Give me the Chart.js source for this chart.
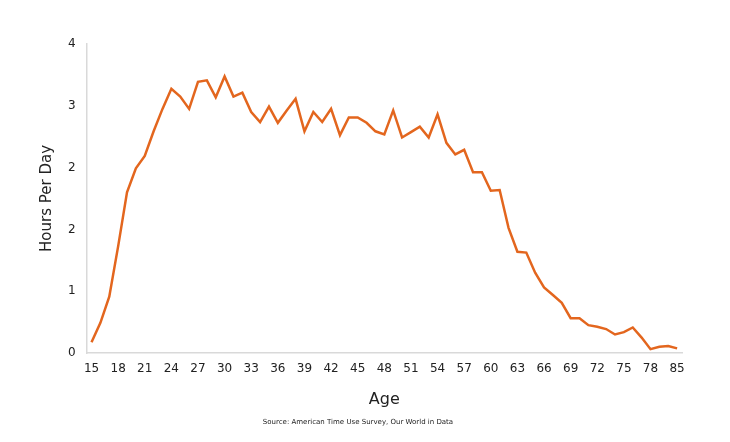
<!DOCTYPE html>
<html>
<head>
<meta charset="utf-8">
<script src="https://cdn.jsdelivr.net/npm/chart.js@4"></script>
<style>
  html, body { margin: 0; padding: 0; background: #fff; }
  #wrap { width: 730px; height: 442px; }
</style>
</head>
<body>
<div id="wrap"><canvas id="chart" width="730" height="442"></canvas></div>
<script>
// Ages (last bucket is 85)
const ages = [15, 16, 17, 18, 19, 20, 21, 22, 23, 24, 25, 26, 27, 28, 29, 30, 31, 32, 33, 34,
    35, 36, 37, 38, 39, 40, 41, 42, 43, 44, 45, 46, 47, 48, 49, 50, 51, 52, 53, 54,
    55, 56, 57, 58, 59, 60, 61, 62, 63, 64, 65, 66, 67, 68, 69, 70, 71, 72, 73, 74,
    75, 76, 77, 78, 79, 80, 85];

// Hours per day
const hoursPerDay = [0.14, 0.39, 0.73, 1.38, 2.08, 2.39, 2.55, 2.87, 3.16, 3.42,
    3.32, 3.16, 3.51, 3.53, 3.31, 3.58, 3.32, 3.37, 3.12, 2.99,
    3.19, 2.98, 3.14, 3.29, 2.87, 3.12, 2.99, 3.16, 2.82, 3.05,
    3.05, 2.98, 2.87, 2.83, 3.14, 2.79, 2.86, 2.93, 2.79, 3.09,
    2.72, 2.57, 2.63, 2.34, 2.34, 2.10, 2.11, 1.62, 1.31, 1.30,
    1.04, 0.85, 0.75, 0.65, 0.45, 0.45, 0.36, 0.34, 0.31, 0.24,
    0.27, 0.33, 0.20, 0.05, 0.08, 0.09, 0.06];

const yTicks = [0, 0.8, 1.6, 2.4, 3.2, 4];
// every third age gets a label
const xTickIdx = ages.map((a, i) => i).filter(i => i % 3 === 0);

const FONT = "'DejaVu Sans', sans-serif";
const TEXT = '#222';

new Chart(document.getElementById('chart').getContext('2d'), {
    type: 'line',
    data: {
        datasets: [{
            data: hoursPerDay.map((v, i) => ({ x: i, y: v })),
            borderColor: '#e3661e',
            borderWidth: 2.5,
            pointRadius: 0,
            tension: 0,
            fill: false
        }]
    },
    options: {
        responsive: false,
        animation: false,
        layout: { padding: { left: 34, right: 48, top: 44, bottom: 8 } },
        plugins: {
            legend: { display: false },
            tooltip: { enabled: false },
            title: {
                display: true,
                position: 'bottom',
                text: 'Source: American Time Use Survey, Our World in Data',
                color: TEXT,
                font: { family: FONT, size: 7, weight: 'normal' },
                padding: { top: 8, bottom: 8 }
            }
        },
        scales: {
            x: {
                type: 'linear',
                min: -0.55,
                max: 66.55,
                afterBuildTicks: axis => { axis.ticks = xTickIdx.map(i => ({ value: i })); },
                grid: { display: false, drawTicks: false },
                border: { display: true, color: '#d9d9d9', width: 1.5 },
                ticks: {
                    autoSkip: false,
                    maxRotation: 0,
                    padding: 9,
                    color: TEXT,
                    font: { family: FONT, size: 12 },
                    callback: v => ages[v]
                },
                title: {
                    display: true,
                    text: 'Age',
                    color: TEXT,
                    font: { family: FONT, size: 16 },
                    padding: { top: 5, bottom: 0 }
                }
            },
            y: {
                min: 0,
                max: 4,
                afterBuildTicks: axis => { axis.ticks = yTicks.map(v => ({ value: v })); },
                grid: { display: false, drawTicks: false },
                border: { display: true, color: '#d9d9d9', width: 1.5 },
                ticks: {
                    padding: 11,
                    color: TEXT,
                    font: { family: FONT, size: 12 },
                    callback: v => Math.round(v)
                },
                title: {
                    display: true,
                    text: 'Hours Per Day',
                    color: TEXT,
                    font: { family: FONT, size: 15 },
                    padding: { top: 4, bottom: 1 }
                }
            }
        }
    }
});
</script>
</body>
</html>
